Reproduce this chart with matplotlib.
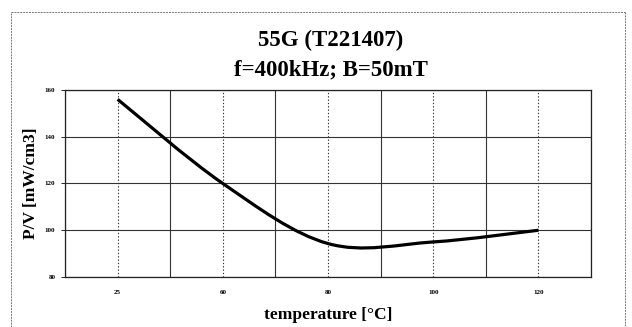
import matplotlib
matplotlib.use("Agg")
import matplotlib.pyplot as plt
from matplotlib.path import Path
from matplotlib.patches import PathPatch
from matplotlib.lines import Line2D
import numpy as np

# data (Excel-style category axis, smoothed line)
temps = ["25", "60", "80", "100", "120"]
pv = [156, 120, 94.3, 95.0, 100]
y_ticks = [80, 100, 120, 140, 160]

plt.rcParams["font.family"] = ["Liberation Serif", "DejaVu Serif"]

fig = plt.figure(figsize=(6.32, 3.27), dpi=100)
fig.patch.set_facecolor("white")
ax = fig.add_axes([0.1029, 0.1529, 0.8323, 0.5719])

n = len(temps)
xs = np.arange(n)
ax.set_xlim(-0.5, n - 0.5)
ax.set_ylim(y_ticks[0], y_ticks[-1])

# grid: solid between categories and on value ticks, dotted at category centers
for b in np.arange(-0.5, n, 1.0):
    ax.axvline(b, color="#333333", lw=0.8, zorder=1)
for c in xs:
    ax.axvline(c, color="#333333", lw=0.8, ls=(0, (1.2, 1.8)), zorder=1)
for yv in y_ticks:
    ax.axhline(yv, color="#333333", lw=0.8, zorder=1)

# smoothed line (Bezier through the data points, like Excel's smoothing)
pts = np.column_stack([xs, pv]).astype(float)
verts = [pts[0]]
codes = [Path.MOVETO]
for i in range(n - 1):
    p_prev = pts[i - 1] if i > 0 else pts[i]
    p_next2 = pts[i + 2] if i + 2 < n else pts[i + 1]
    c1 = pts[i] + (pts[i + 1] - p_prev) / 6.0
    c2 = pts[i + 1] - (p_next2 - pts[i]) / 6.0
    verts += [c1, c2, pts[i + 1]]
    codes += [Path.CURVE4] * 3
ax.add_patch(PathPatch(Path(verts, codes), facecolor="none",
                       edgecolor="black", lw=2.3, capstyle="butt", zorder=3))

ax.set_xticks(xs)
ax.set_xticklabels(temps)
ax.set_yticks(y_ticks)
ax.tick_params(axis="x", length=0, pad=9, labelsize=5)
ax.tick_params(axis="y", length=3, width=0.6, pad=4, labelsize=5)
for lab in ax.get_xticklabels() + ax.get_yticklabels():
    lab.set_fontweight("bold")
for s in ax.spines.values():
    s.set_color("#222222")
    s.set_linewidth(0.9)

ax.set_ylabel("P/V [mW/cm3]", fontsize=12.5, fontweight="bold")
ax.yaxis.set_label_coords(-0.05, 0.5)
ax.set_xlabel("temperature [°C]", fontsize=12.5, fontweight="bold", labelpad=9)

fig.text(0.523, 0.875, "55G (T221407)", fontsize=16.5, fontweight="bold",
         ha="center", va="center")
fig.text(0.523, 0.785, "f=400kHz; B=50mT", fontsize=16.5, fontweight="bold",
         ha="center", va="center")

# outer chart-area frame
W, H = 632.0, 327.0
x0, x1, y0 = 11 / W, 625 / W, 1 - 12 / H
for xx, yy in [([x0, x0], [0, y0]), ([x0, x1], [y0, y0]), ([x1, x1], [y0, 0])]:
    fig.add_artist(Line2D(xx, yy, transform=fig.transFigure, color="#777777",
                          lw=0.7, ls=(0, (2, 1))))

fig.savefig("out.png", dpi=100, facecolor="white")
